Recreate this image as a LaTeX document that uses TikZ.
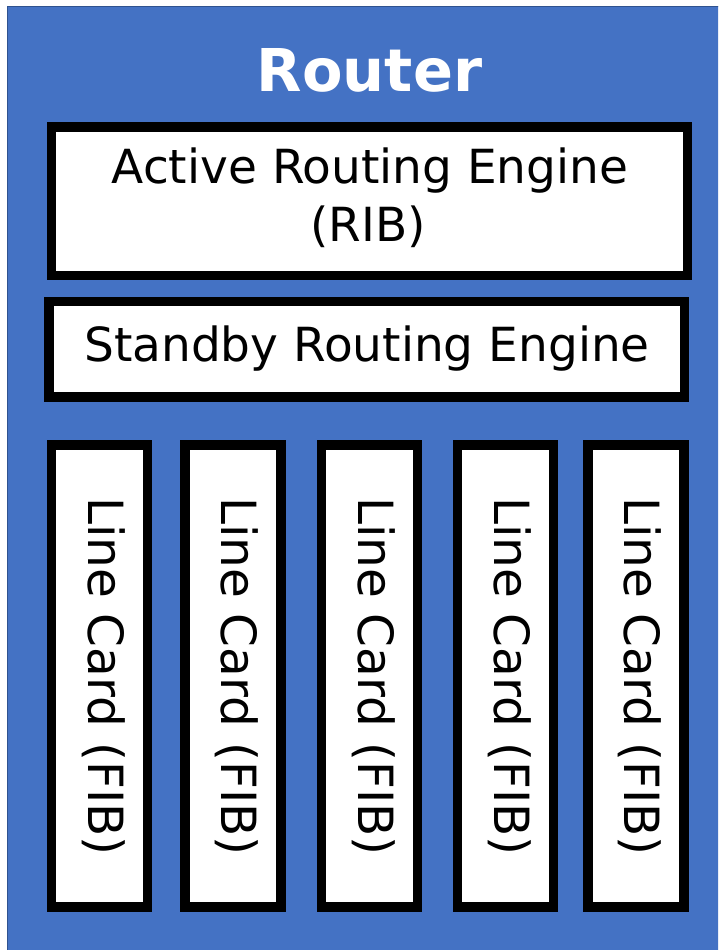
\documentclass[tikz,border=0pt]{standalone}
\usepackage{fontspec}
\setmainfont{DejaVu Sans}
\definecolor{routerblue}{HTML}{4472C4}
\definecolor{routeredge}{HTML}{2F528F}
\begin{document}
\begin{tikzpicture}[x=1pt,y=-1pt,
  unitbox/.style={draw=black, line width=9.5pt, fill=white, inner sep=0pt},
  cardbox/.style={unitbox, minimum width=96.1pt, minimum height=462.2pt},
  bodytext/.style={font=\fontsize{47}{58}\selectfont, text=black, inner sep=0pt, anchor=base},
  cardtext/.style={bodytext, font=\fontsize{48.5}{58}\selectfont, rotate=-90}]
\useasboundingbox (0,0) rectangle (718,950);
\clip (0,0) rectangle (718,950);
\fill[white] (0,0) rectangle (718,950);
\draw[routeredge, fill=routerblue, line width=1.5pt] (7.5,6.5) rectangle (730,960);
\node[font=\bfseries\fontsize{59}{70}\selectfont, text=white, anchor=base, inner sep=0pt] (title) at (369.5,91.7) {Router};
% Active routing engine
\node[unitbox, minimum width=636pt, minimum height=148.5pt] (active) at (369.5,201.25) {};
\node[bodytext] (activet1) at (370,183) {Active Routing Engine};
\node[bodytext] (activet2) at (368,241) {(RIB)};
% Standby routing engine
\node[unitbox, minimum width=635.5pt, minimum height=95.5pt] (standby) at (366.75,349.25) {};
\node[bodytext] (standbyt) at (367,361) {Standby Routing Engine};
% Line cards
\foreach \i/\cx/\tx in {1/99.5/88.3, 2/233.1/221.9, 3/369.5/358.3, 4/505.5/494.3, 5/636.1/624.9}{
  \node[cardbox] (card\i) at (\cx,675.85) {};
  \node[cardtext] (cardt\i) at (\tx,676.5) {Line Card (FIB)};
}
\end{tikzpicture}
\end{document}
